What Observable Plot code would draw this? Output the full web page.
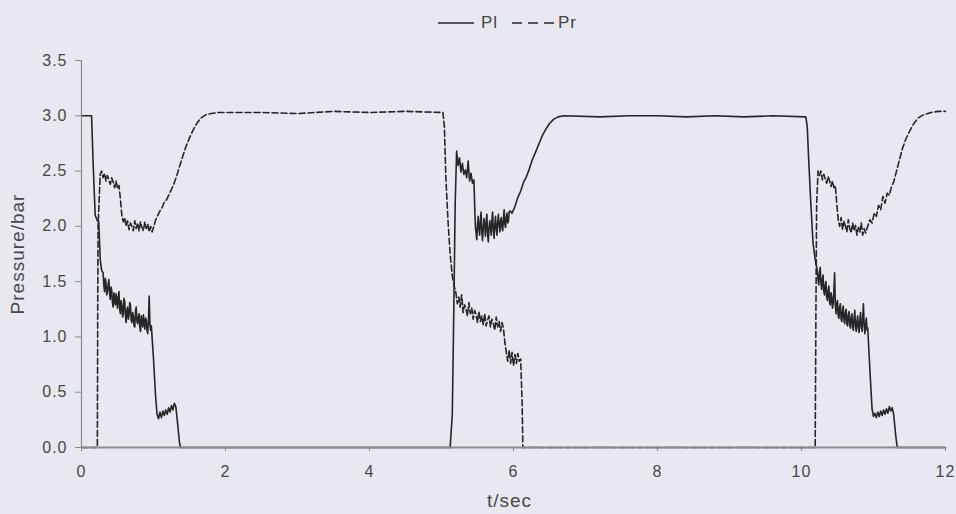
<!DOCTYPE html>
<html>
<head>
<meta charset="utf-8">
<script src="https://cdn.jsdelivr.net/npm/d3@7"></script>
<script src="https://cdn.jsdelivr.net/npm/@observablehq/plot@0.6"></script>
<style>
  html, body { margin: 0; padding: 0; background: #e8e8f0; }
  #wrap { width: 956px; height: 514px; position: relative; background: #e8e8f0; font-family: "Liberation Sans", Arial, sans-serif; }
  #legend { height: 44px; position: relative; }
  #legend .item { position: absolute; top: 13px; display: flex; align-items: center; font-size: 17px; color: #444; letter-spacing: 1px; height: 20px; }
</style>
</head>
<body>
<div id="wrap">
  <div id="legend"></div>
  <div id="chart"></div>
</div>
<script>
// ---- data (t in seconds, pressure in bar) ----
const seriesNames = ["Pl", "Pr"];
const xTicks = [0, 2, 4, 6, 8, 10, 12];
const yTicks = [0, 0.5, 1.0, 1.5, 2.0, 2.5, 3.0, 3.5];
const xLabel = "t/sec";
const yLabel = "Pressure/bar";

// Pl (solid)
const plCycle1 = [
  [0,3.0],[0.14,3.0],[0.16,2.6],[0.19,2.1],[0.22,2.05],[0.24,2.04],[0.26,1.7],[0.28,1.6],
  [0.30,1.58],[0.31,1.47],[0.32,1.41],[0.33,1.53],[0.34,1.49],[0.35,1.38],[0.36,1.41],[0.37,1.47],
  [0.38,1.52],[0.39,1.39],[0.40,1.34],[0.41,1.45],[0.42,1.42],[0.43,1.31],[0.44,1.27],[0.45,1.40],
  [0.46,1.34],[0.47,1.29],[0.48,1.39],[0.49,1.33],[0.50,1.26],[0.51,1.36],[0.52,1.41],[0.53,1.25],
  [0.54,1.21],[0.55,1.33],[0.56,1.29],[0.57,1.18],[0.58,1.21],[0.59,1.35],[0.60,1.32],[0.61,1.19],
  [0.62,1.13],[0.63,1.24],[0.64,1.27],[0.65,1.16],[0.66,1.19],[0.67,1.31],[0.68,1.29],[0.69,1.15],
  [0.70,1.13],[0.71,1.22],[0.72,1.19],[0.73,1.10],[0.74,1.09],[0.75,1.24],[0.76,1.27],[0.77,1.14],
  [0.78,1.12],[0.79,1.18],[0.80,1.21],[0.81,1.08],[0.82,1.05],[0.83,1.19],[0.84,1.15],[0.85,1.09],
  [0.86,1.20],[0.87,1.13],[0.88,1.07],[0.89,1.17],[0.90,1.15],[0.91,1.06],[0.92,1.03],[0.93,1.16],
  [0.94,1.37],[0.95,1.12],[0.96,1.06],[0.97,1.10],
  [1.00,0.80],[1.03,0.45],[1.05,0.30],[1.07,0.26],[1.09,0.32],[1.11,0.27],[1.13,0.33],[1.15,0.29],
  [1.17,0.34],[1.19,0.30],[1.21,0.36],[1.23,0.32],[1.25,0.38],[1.27,0.34],[1.29,0.40],[1.31,0.37],
  [1.33,0.25],[1.36,0.05],[1.375,0]
];
const plCycle2 = [
  [5.12,0],[5.15,0.3],[5.17,1.2],[5.19,2.2],[5.21,2.68],
  [5.23,2.55],[5.25,2.62],[5.27,2.49],[5.29,2.57],[5.31,2.47],[5.33,2.51],[5.35,2.44],[5.37,2.59],
  [5.39,2.41],[5.41,2.48],[5.43,2.39],[5.45,2.42],
  [5.47,2.00],[5.48,1.94],[5.49,1.88],[5.50,2.02],[5.51,2.09],[5.52,1.97],[5.53,1.92],[5.54,2.05],
  [5.55,2.13],[5.56,1.95],[5.57,1.87],[5.58,1.99],[5.59,2.07],[5.60,2.01],[5.61,1.91],[5.62,2.04],
  [5.63,2.11],[5.64,1.93],[5.65,1.86],[5.66,1.98],[5.67,2.05],[5.68,2.00],[5.69,1.92],[5.70,2.06],
  [5.71,2.13],[5.72,1.96],[5.73,1.89],[5.74,2.01],[5.75,2.09],[5.76,1.98],[5.77,1.92],[5.78,2.03],
  [5.79,2.11],[5.80,2.02],[5.81,1.95],[5.82,2.04],[5.83,2.08],[5.84,1.99],[5.85,1.96],[5.86,2.07],
  [5.87,2.15],[5.88,2.02],[5.89,1.99],[5.90,2.08],[5.91,2.12],[5.92,2.03],[5.93,2.05],[5.94,2.13],
  [5.95,2.14],
  [5.98,2.12],[6.02,2.18],[6.06,2.26],[6.10,2.32],[6.14,2.40],[6.18,2.45],[6.22,2.52],[6.26,2.60],
  [6.30,2.66],[6.35,2.74],[6.40,2.82],[6.45,2.88],[6.50,2.93],[6.56,2.97],[6.62,2.99],[6.70,3.00],
  [7.20,2.99],[7.60,3.00],[8.00,3.00],[8.40,2.99],[8.80,3.00],[9.20,2.99],[9.60,3.00],[10.06,2.99]
];
const plCycle3 = [
  [10.08,2.90],[10.10,2.60],[10.13,2.20],[10.16,1.85],[10.19,1.70],
  [10.22,1.60],[10.23,1.52],[10.24,1.47],[10.25,1.58],[10.26,1.63],[10.27,1.49],[10.28,1.43],[10.29,1.52],
  [10.30,1.56],[10.31,1.41],[10.32,1.38],[10.33,1.47],[10.34,1.50],[10.35,1.36],[10.36,1.33],[10.37,1.42],
  [10.38,1.46],[10.39,1.31],[10.40,1.29],[10.41,1.40],[10.42,1.36],[10.43,1.26],[10.44,1.30],[10.45,1.42],
  [10.46,1.58],[10.47,1.28],[10.48,1.21],[10.49,1.30],[10.50,1.33],[10.51,1.19],[10.52,1.17],[10.53,1.27],
  [10.54,1.30],[10.55,1.16],[10.56,1.14],[10.57,1.24],[10.58,1.28],[10.59,1.15],[10.60,1.12],[10.61,1.22],
  [10.62,1.25],[10.63,1.12],[10.64,1.10],[10.65,1.20],[10.66,1.23],[10.67,1.11],[10.68,1.08],[10.69,1.18],
  [10.70,1.21],[10.71,1.09],[10.72,1.06],[10.73,1.17],[10.74,1.24],[10.75,1.10],[10.76,1.05],[10.77,1.14],
  [10.78,1.19],[10.79,1.08],[10.80,1.04],[10.81,1.15],[10.82,1.22],[10.83,1.09],[10.84,1.05],[10.85,1.17],
  [10.86,1.30],[10.87,1.10],[10.88,1.03],[10.89,1.12],[10.90,1.17],[10.91,1.06],[10.92,1.08],
  [10.95,0.70],[10.98,0.35],[11.00,0.28],[11.02,0.31],[11.04,0.27],[11.06,0.32],[11.08,0.28],[11.10,0.33],
  [11.12,0.29],[11.14,0.34],[11.16,0.30],[11.18,0.35],[11.20,0.31],[11.22,0.37],[11.24,0.33],[11.26,0.36],
  [11.28,0.30],[11.31,0.10],[11.33,0],[12,0]
];

// Pr (dashed)
const prCycle1 = [
  [0,0],[0.22,0],[0.225,1.2],[0.23,2.0],[0.26,2.47],[0.28,2.50],
  [0.30,2.44],[0.32,2.48],[0.34,2.41],[0.36,2.46],[0.38,2.42],[0.40,2.38],[0.42,2.44],[0.44,2.40],
  [0.46,2.35],[0.48,2.41],[0.50,2.34],[0.52,2.37],
  [0.54,2.25],[0.56,2.10],[0.58,2.04],
  [0.60,2.08],[0.62,2.00],[0.64,2.05],[0.66,1.97],[0.68,2.03],[0.70,2.00],[0.72,1.96],[0.74,2.05],
  [0.76,1.98],[0.78,2.03],[0.80,1.96],[0.82,2.04],[0.84,1.99],[0.86,1.96],[0.88,2.04],[0.90,1.98],
  [0.92,2.02],[0.94,1.95],[0.96,2.00],[0.98,1.95],[1.00,1.99],
  [1.03,2.06],[1.06,2.10],[1.09,2.14],[1.12,2.17],[1.15,2.22],[1.18,2.24],[1.21,2.28],[1.24,2.32],
  [1.28,2.38],[1.32,2.45],[1.36,2.54],[1.40,2.62],[1.45,2.72],[1.50,2.80],[1.55,2.87],[1.60,2.93],
  [1.66,2.98],[1.73,3.01],[1.80,3.02],[1.90,3.03],
  [2.50,3.03],[3.00,3.02],[3.50,3.04],[4.00,3.03],[4.50,3.04],[5.02,3.03]
];
const prCycle2 = [
  [5.04,2.90],[5.06,2.45],[5.09,2.05],[5.12,1.75],[5.15,1.55],[5.18,1.45],
  [5.20,1.40],[5.22,1.30],[5.24,1.36],[5.26,1.27],[5.28,1.38],[5.30,1.22],[5.32,1.29],[5.34,1.25],
  [5.36,1.19],[5.38,1.31],[5.40,1.21],[5.42,1.26],[5.44,1.16],[5.46,1.24],[5.48,1.20],[5.50,1.13],
  [5.52,1.23],[5.54,1.14],[5.56,1.19],[5.58,1.11],[5.60,1.21],[5.62,1.10],[5.64,1.15],[5.66,1.19],
  [5.68,1.09],[5.70,1.16],[5.72,1.12],[5.74,1.06],[5.76,1.18],[5.78,1.09],[5.80,1.14],[5.82,1.05],
  [5.84,1.13],[5.86,1.08],
  [5.88,0.95],[5.90,0.86],
  [5.92,0.78],[5.94,0.88],[5.96,0.76],[5.98,0.86],[6.00,0.74],[6.02,0.84],[6.04,0.76],[6.06,0.85],
  [6.08,0.78],[6.10,0.80],
  [6.12,0.40],[6.13,0],[10.19,0]
];
const prCycle3 = [
  [10.20,1.2],[10.21,2.2],[10.23,2.50],
  [10.25,2.46],[10.27,2.50],[10.29,2.42],[10.31,2.47],[10.33,2.43],[10.35,2.39],[10.37,2.45],[10.39,2.41],
  [10.41,2.36],[10.43,2.41],[10.45,2.35],[10.47,2.37],
  [10.49,2.20],[10.51,2.06],
  [10.53,2.00],[10.55,2.08],[10.57,1.97],[10.59,2.05],[10.61,2.00],[10.63,1.95],[10.65,2.06],[10.67,1.98],
  [10.69,1.94],[10.71,2.03],[10.73,1.96],[10.75,2.01],[10.77,1.92],[10.79,1.99],[10.81,1.95],[10.83,2.03],
  [10.85,1.92],[10.87,1.98],[10.89,1.94],
  [10.92,2.00],[10.95,2.06],[10.98,2.03],[11.01,2.12],[11.04,2.09],[11.07,2.19],[11.10,2.15],[11.13,2.27],
  [11.16,2.21],[11.19,2.30],[11.22,2.28],[11.25,2.36],[11.28,2.40],[11.32,2.50],[11.36,2.60],[11.40,2.70],
  [11.45,2.79],[11.50,2.86],[11.56,2.93],[11.62,2.98],[11.70,3.01],[11.80,3.03],[11.90,3.04],[12.00,3.04]
];

// ---- build tables ----
const toRows = (pairs) => pairs.map(([t, v]) => ({t, v}));
const plData = toRows([...plCycle1, ...plCycle2, ...plCycle3]);
const prData = toRows([...prCycle1, ...prCycle2, ...prCycle3]);

const lineColor = "#262626";
const axisColor = "#8a8a8a";
const textColor = "#474747";

// ---- legend ----
const legend = document.getElementById("legend");
legend.innerHTML = `
  <div class="item" style="left:438px">
    <svg width="36" height="10"><line x1="0" x2="36" y1="5" y2="5" stroke="${lineColor}" stroke-width="1.4"/></svg>
    <span style="margin-left:7px">${seriesNames[0]}</span>
  </div>
  <div class="item" style="left:512px">
    <svg width="42" height="10"><line x1="0" x2="42" y1="5" y2="5" stroke="${lineColor}" stroke-width="1.6" stroke-dasharray="10,6"/></svg>
    <span style="margin-left:4px">${seriesNames[1]}</span>
  </div>`;

// ---- chart ----
const chart = Plot.plot({
  width: 956,
  height: 470,
  marginLeft: 81,
  marginRight: 11,
  marginTop: 16,
  marginBottom: 67,
  style: {background: "#e8e8f0", fontFamily: "'Liberation Sans', Arial, sans-serif", fontSize: "16px", color: textColor, letterSpacing: "1px"},
  x: {domain: [0, 12], label: null},
  y: {domain: [0, 3.5], label: null},
  marks: [
    Plot.line(plData, {x: "t", y: "v", stroke: lineColor, strokeWidth: 1.6}),
    Plot.line(prData, {x: "t", y: "v", stroke: lineColor, strokeWidth: 1.6, strokeDasharray: "6,3"}),
    Plot.ruleY([0], {stroke: axisColor, strokeWidth: 2.2}),
    Plot.ruleX([0], {stroke: axisColor, strokeWidth: 1.2}),
    Plot.axisX({ticks: xTicks, tickFormat: d3.format("d"), tickSize: 4, tickPadding: 14, stroke: axisColor, fill: textColor, label: null}),
    Plot.axisY({ticks: yTicks, tickFormat: d3.format(".1f"), tickSize: 6, tickPadding: 8, stroke: axisColor, fill: textColor, label: null}),
    Plot.text([xLabel], {frameAnchor: "bottom", textAnchor: "middle", lineAnchor: "middle", dx: -4, dy: 53, fontSize: 19, fill: textColor}),
    Plot.text([yLabel], {frameAnchor: "left", textAnchor: "middle", lineAnchor: "middle", dx: -64, rotate: -90, fontSize: 19, fill: textColor})
  ]
});
document.getElementById("chart").appendChild(chart);
</script>
</body>
</html>
